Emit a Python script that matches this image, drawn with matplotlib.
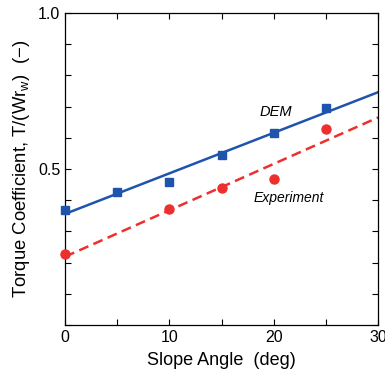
import matplotlib
matplotlib.use("Agg")
import matplotlib.pyplot as plt
from matplotlib.ticker import MultipleLocator, FixedLocator

plt.rcParams['font.family'] = ['Liberation Sans', 'DejaVu Sans']

# valores
angle = [0, 5, 10, 15, 20, 25]
dem = [0.367, 0.426, 0.458, 0.544, 0.614, 0.695]
exp_angle = [0, 10, 15, 20, 25]
experiment = [0.227, 0.372, 0.438, 0.468, 0.627]
fit_x = [0, 30]
dem_fit = [0.356, 0.746]
exp_fit = [0.219, 0.665]

blue = '#1f54ad'
red = '#ee2f2f'

fig = plt.figure(figsize=(3.85, 3.81), dpi=100)
ax = fig.add_axes([0.169, 0.147, 0.813, 0.819])

ax.plot(fit_x, dem_fit, '-', color=blue, lw=1.8)
ax.plot(fit_x, exp_fit, '--', color=red, lw=1.8, dashes=(4, 2.2))
ax.plot(angle, dem, 's', color=blue, ms=6, clip_on=False, zorder=5)
ax.plot(exp_angle, experiment, 'o', color=red, ms=6.5, clip_on=False, zorder=5)

ax.text(20.2, 0.681, 'DEM', style='italic', fontsize=10.5, ha='center', va='center')
ax.text(21.4, 0.407, 'Experiment', style='italic', fontsize=10, ha='center', va='center')

ax.set_xlim(0, 30)
ax.set_ylim(0, 1.0)
ax.xaxis.set_major_locator(MultipleLocator(10))
ax.xaxis.set_minor_locator(MultipleLocator(5))
ax.yaxis.set_major_locator(FixedLocator([0.5, 1.0]))
ax.yaxis.set_minor_locator(MultipleLocator(0.1))
ax.yaxis.set_major_formatter(plt.FormatStrFormatter('%.1f'))
ax.tick_params(which='both', direction='in', top=True, right=True,
               length=4, width=0.8, labelsize=11.5)
for s in ax.spines.values():
    s.set_linewidth(0.9)

ax.set_xlabel('Slope Angle  (deg)', fontsize=13, labelpad=5)
ax.set_ylabel('Torque Coefficient, T/(Wr$_\\mathregular{w}$)  (\u2212)', fontsize=13.3, labelpad=4)

fig.savefig('out.png', dpi=100)
